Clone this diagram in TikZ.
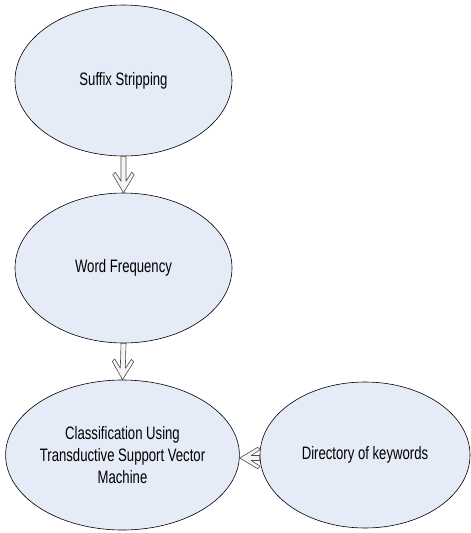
\documentclass[tikz,border=0pt]{standalone}
\usepackage{fontspec}
\setmainfont{Liberation Sans}[FakeStretch=0.73]
\usetikzlibrary{shapes.geometric, calc}

\definecolor{bubble}{RGB}{230,236,247}
\tikzset{
  stage/.style = {ellipse, draw, fill = bubble, line width = 0.6pt, inner sep = 0pt,
                  align = center, font = \fontsize{18}{22}\selectfont},
  % hollow block arrow with a barbed head, laid along start -> target
  flow/.style = {draw = black!70, fill = gray!8, line width = 0.6pt, line join = round,
    to path = {
      let \p1 = ($(\tikztotarget)-(\tikztostart)$),
          \n1 = {atan2(\y1,\x1)}, \n2 = {veclen(\x1,\y1)} in
      {[shift = {(\tikztostart)}, rotate = \n1]
        (0pt, 2.5pt) -- (\n2-11.5pt, 2.5pt) -- (\n2-20.5pt, 8.3pt) -- (\n2-18pt, 10.7pt)
        -- (\n2, 0pt)
        -- (\n2-18pt, -10.7pt) -- (\n2-20.5pt, -8.3pt) -- (\n2-11.5pt, -2.5pt) -- (0pt, -2.5pt) -- cycle}
    }}
}

\begin{document}
\begin{tikzpicture}[x = 1pt, y = -1pt]
  \useasboundingbox (0, 0) rectangle (471, 533);
  % pipeline, top to bottom
  \node[stage, minimum width = 217pt, minimum height = 151pt] (suffix) at (123.5, 80.5) {Suffix Stripping};
  \node[stage, minimum width = 217pt, minimum height = 150pt] (freq) at (123.5, 268) {Word Frequency};
  \node[stage, minimum width = 215pt, minimum height = 150pt] (tsvm) at (122.5, 455)
    {Classification Using\\Transductive Support Vector\\Machine};
  \node[stage, minimum width = 210pt, minimum height = 146pt] (keys) at (365, 455) {Directory of keywords};
  % arrows
  \draw[flow] (suffix.south) to (freq.north);
  \draw[flow] (freq.south) to (tsvm.north);
  \draw[flow] ([yshift = -3pt]keys.west) to ([yshift = -3pt]tsvm.east);
\end{tikzpicture}
\end{document}
